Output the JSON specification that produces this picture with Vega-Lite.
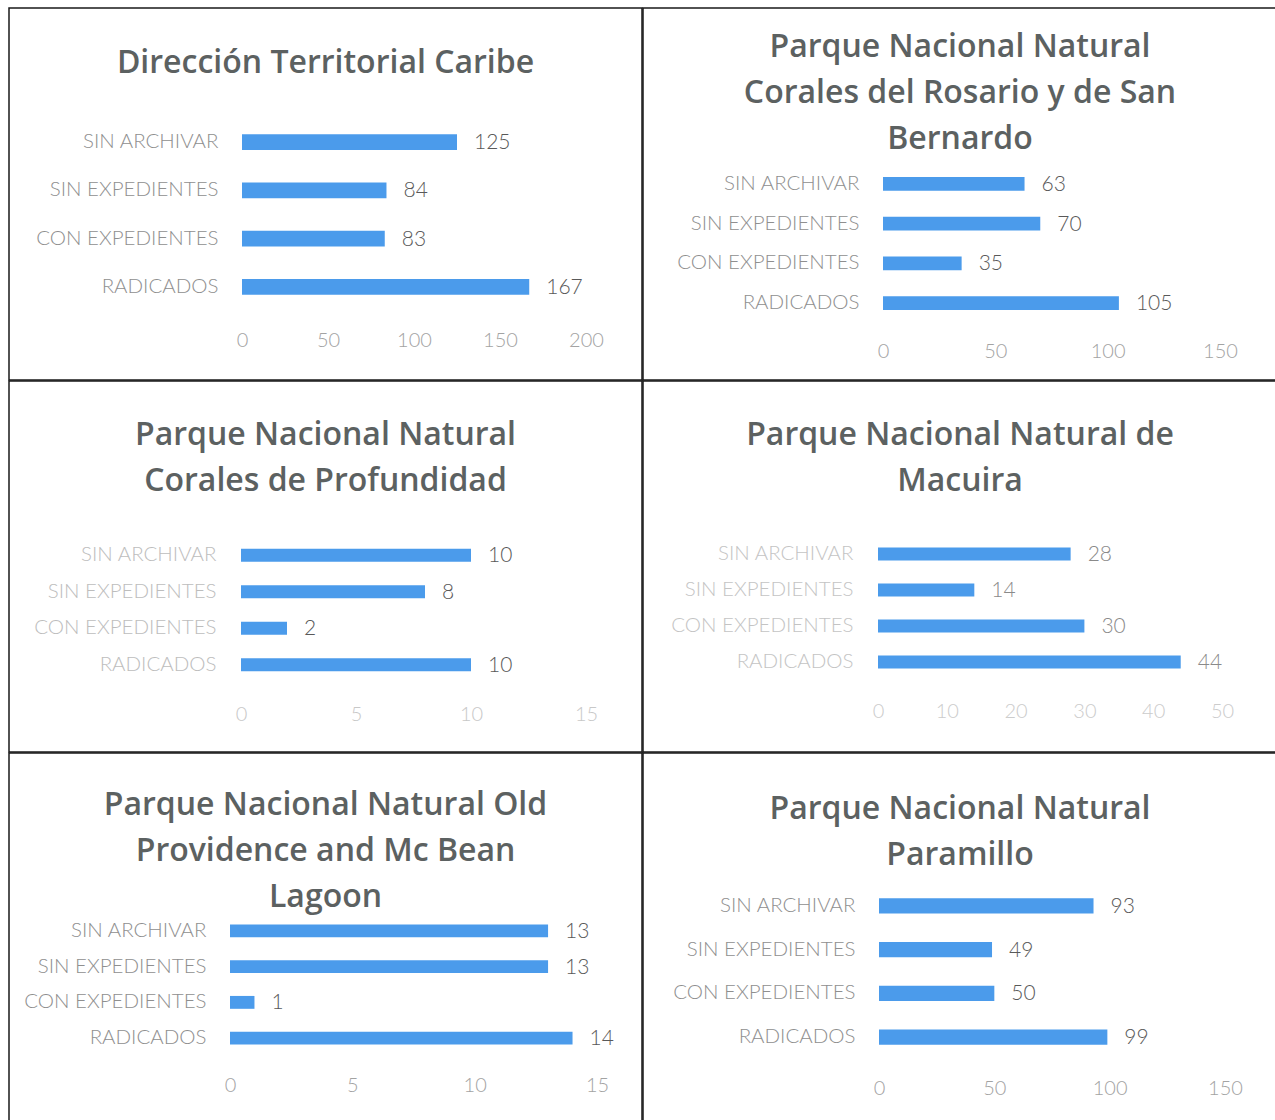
{
  "$schema": "https://vega.github.io/schema/vega-lite/v6.json",
  "padding": {"left": 8, "top": 7, "right": 0, "bottom": 0},
  "background": "white",
  "data": {"values": [
    {"panel": 1, "cat": "SIN ARCHIVAR", "value": 125},
    {"panel": 1, "cat": "SIN EXPEDIENTES", "value": 84},
    {"panel": 1, "cat": "CON EXPEDIENTES", "value": 83},
    {"panel": 1, "cat": "RADICADOS", "value": 167},
    {"panel": 2, "cat": "SIN ARCHIVAR", "value": 63},
    {"panel": 2, "cat": "SIN EXPEDIENTES", "value": 70},
    {"panel": 2, "cat": "CON EXPEDIENTES", "value": 35},
    {"panel": 2, "cat": "RADICADOS", "value": 105},
    {"panel": 3, "cat": "SIN ARCHIVAR", "value": 10},
    {"panel": 3, "cat": "SIN EXPEDIENTES", "value": 8},
    {"panel": 3, "cat": "CON EXPEDIENTES", "value": 2},
    {"panel": 3, "cat": "RADICADOS", "value": 10},
    {"panel": 4, "cat": "SIN ARCHIVAR", "value": 28},
    {"panel": 4, "cat": "SIN EXPEDIENTES", "value": 14},
    {"panel": 4, "cat": "CON EXPEDIENTES", "value": 30},
    {"panel": 4, "cat": "RADICADOS", "value": 44},
    {"panel": 5, "cat": "SIN ARCHIVAR", "value": 13},
    {"panel": 5, "cat": "SIN EXPEDIENTES", "value": 13},
    {"panel": 5, "cat": "CON EXPEDIENTES", "value": 1},
    {"panel": 5, "cat": "RADICADOS", "value": 14},
    {"panel": 6, "cat": "SIN ARCHIVAR", "value": 93},
    {"panel": 6, "cat": "SIN EXPEDIENTES", "value": 49},
    {"panel": 6, "cat": "CON EXPEDIENTES", "value": 50},
    {"panel": 6, "cat": "RADICADOS", "value": 99}
  ]},
  "spacing": -1.5,
  "vconcat": [
    {"spacing": -1.5, "hconcat": [
      {
        "width": 633, "height": 372,
        "title": {"text": ["Dirección Territorial Caribe"], "offset": -72},
        "transform": [{"filter": "datum.panel == 1"}],
        "encoding": {
          "y": {"field": "cat", "type": "nominal", "title": null, "sort": ["SIN ARCHIVAR", "SIN EXPEDIENTES", "CON EXPEDIENTES", "RADICADOS"],
            "scale": {"range": [110, 303], "paddingInner": 0.67, "paddingOuter": 0.335},
            "axis": {"offset": -209}},
          "x": {"field": "value", "type": "quantitative", "title": null,
            "scale": {"domain": [0, 200], "range": [233, 577], "nice": false},
            "axis": {"values": [0, 50, 100, 150, 200], "offset": -49.5}}
        },
        "layer": [
          {"mark": {"type": "bar"}},
          {"mark": {"type": "text", "align": "left", "baseline": "middle", "dx": 17, "dy": 1}, "encoding": {"text": {"field": "value", "type": "quantitative"}}}
        ]
      },
      {
        "width": 634, "height": 372,
        "title": {"text": ["Parque Nacional Natural", "Corales del Rosario y de San", "Bernardo"], "offset": -148},
        "transform": [{"filter": "datum.panel == 2"}],
        "encoding": {
          "y": {"field": "cat", "type": "nominal", "title": null, "sort": ["SIN ARCHIVAR", "SIN EXPEDIENTES", "CON EXPEDIENTES", "RADICADOS"],
            "scale": {"range": [156, 315], "paddingInner": 0.65, "paddingOuter": 0.325},
            "axis": {"offset": -216}},
          "x": {"field": "value", "type": "quantitative", "title": null,
            "scale": {"domain": [0, 150], "range": [240, 577], "nice": false},
            "axis": {"values": [0, 50, 100, 150], "offset": -38.5}}
        },
        "layer": [
          {"mark": {"type": "bar"}},
          {"mark": {"type": "text", "align": "left", "baseline": "middle", "dx": 17, "dy": 1}, "encoding": {"text": {"field": "value", "type": "quantitative"}}}
        ]
      }
    ]},
    {"spacing": -1.5, "hconcat": [
      {
        "width": 633, "height": 371,
        "title": {"text": ["Parque Nacional Natural", "Corales de Profundidad"], "offset": -117},
        "transform": [{"filter": "datum.panel == 3"}],
        "encoding": {
          "y": {"field": "cat", "type": "nominal", "title": null, "sort": ["SIN ARCHIVAR", "SIN EXPEDIENTES", "CON EXPEDIENTES", "RADICADOS"],
            "scale": {"range": [156, 302], "paddingInner": 0.646, "paddingOuter": 0.323},
            "axis": {"offset": -207, "labelColor": "#bdbdbd"}},
          "x": {"field": "value", "type": "quantitative", "title": null,
            "scale": {"domain": [0, 15], "range": [232, 577], "nice": false},
            "axis": {"values": [0, 5, 10, 15], "offset": -47.5, "labelColor": "#c8c8c8"}}
        },
        "layer": [
          {"mark": {"type": "bar"}},
          {"mark": {"type": "text", "align": "left", "baseline": "middle", "dx": 17, "dy": 1}, "encoding": {"text": {"field": "value", "type": "quantitative"}}}
        ]
      },
      {
        "width": 634, "height": 371,
        "title": {"text": ["Parque Nacional Natural de", "Macuira"], "offset": -117},
        "transform": [{"filter": "datum.panel == 4"}],
        "encoding": {
          "y": {"field": "cat", "type": "nominal", "title": null, "sort": ["SIN ARCHIVAR", "SIN EXPEDIENTES", "CON EXPEDIENTES", "RADICADOS"],
            "scale": {"range": [155, 299], "paddingInner": 0.64, "paddingOuter": 0.32},
            "axis": {"offset": -210, "labelColor": "#c4c4c4"}},
          "x": {"field": "value", "type": "quantitative", "title": null,
            "scale": {"domain": [0, 50], "range": [235, 579], "nice": false},
            "axis": {"values": [0, 10, 20, 30, 40, 50], "offset": -50.5, "labelColor": "#cccccc"}}
        },
        "layer": [
          {"mark": {"type": "bar"}},
          {"mark": {"type": "text", "align": "left", "baseline": "middle", "dx": 17, "dy": 1, "color": "#8a8a8a"}, "encoding": {"text": {"field": "value", "type": "quantitative"}}}
        ]
      }
    ]},
    {"spacing": -1.5, "hconcat": [
      {
        "width": 633, "height": 370,
        "title": {"text": ["Parque Nacional Natural Old", "Providence and Mc Bean", "Lagoon"], "offset": -161},
        "transform": [{"filter": "datum.panel == 5"}],
        "encoding": {
          "y": {"field": "cat", "type": "nominal", "title": null, "sort": ["SIN ARCHIVAR", "SIN EXPEDIENTES", "CON EXPEDIENTES", "RADICADOS"],
            "scale": {"range": [160, 303], "paddingInner": 0.64, "paddingOuter": 0.32},
            "axis": {"offset": -197}},
          "x": {"field": "value", "type": "quantitative", "title": null,
            "scale": {"domain": [0, 15], "range": [221, 588], "nice": false},
            "axis": {"values": [0, 5, 10, 15], "offset": -47.5}}
        },
        "layer": [
          {"mark": {"type": "bar"}},
          {"mark": {"type": "text", "align": "left", "baseline": "middle", "dx": 17, "dy": 1}, "encoding": {"text": {"field": "value", "type": "quantitative"}}}
        ]
      },
      {
        "width": 634, "height": 370,
        "title": {"text": ["Parque Nacional Natural", "Paramillo"], "offset": -119},
        "transform": [{"filter": "datum.panel == 6"}],
        "encoding": {
          "y": {"field": "cat", "type": "nominal", "title": null, "sort": ["SIN ARCHIVAR", "SIN EXPEDIENTES", "CON EXPEDIENTES", "RADICADOS"],
            "scale": {"range": [131, 306], "paddingInner": 0.657, "paddingOuter": 0.3285},
            "axis": {"offset": -212}},
          "x": {"field": "value", "type": "quantitative", "title": null,
            "scale": {"domain": [0, 150], "range": [236, 582], "nice": false},
            "axis": {"values": [0, 50, 100, 150], "offset": -44.5}}
        },
        "layer": [
          {"mark": {"type": "bar"}},
          {"mark": {"type": "text", "align": "left", "baseline": "middle", "dx": 17, "dy": 1}, "encoding": {"text": {"field": "value", "type": "quantitative"}}}
        ]
      }
    ]}
  ],
  "config": {
    "font": "Lato",
    "view": {"stroke": "#1a1a1a", "strokeWidth": 1.5},
    "bar": {"color": "#4b9beb"},
    "text": {"font": "Lato", "fontSize": 21, "color": "#595959", "fontWeight": 300},
    "title": {"font": "Open Sans", "fontSize": 32, "fontWeight": 600, "color": "#5c6161", "lineHeight": 46, "anchor": "middle", "frame": "group"},
    "axisY": {"domain": false, "ticks": false, "tickSize": 0, "grid": false, "labelPadding": 0, "labelFont": "Lato", "labelFontSize": 20.5, "labelFontWeight": 300, "labelColor": "#8f8f8f", "labelLimit": 0},
    "axisX": {"domain": false, "ticks": false, "tickSize": 0, "grid": false, "labelPadding": 0, "labelFont": "Lato", "labelFontSize": 20, "labelFontWeight": 300, "labelColor": "#a3a3a3", "labelFlush": false}
  }
}
